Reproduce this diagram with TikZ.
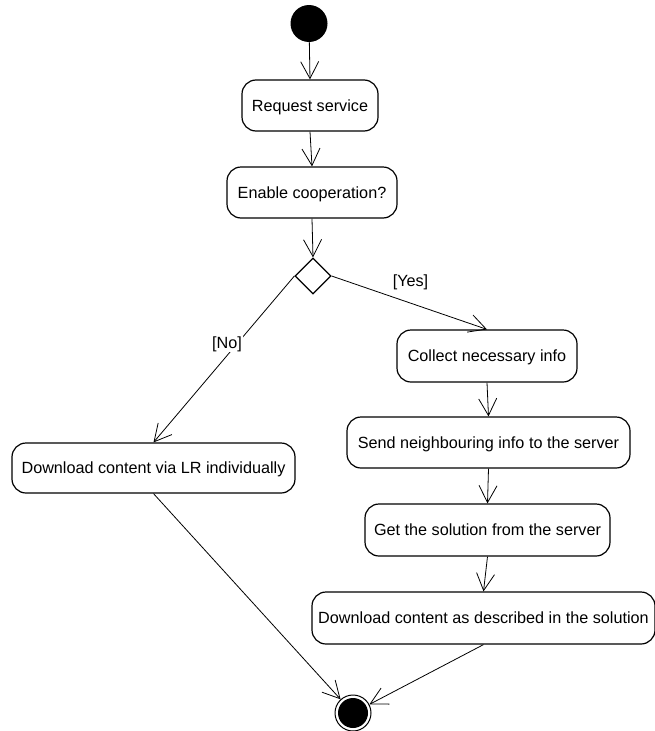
\documentclass[tikz,border=0pt]{standalone}
\usepackage{fontspec}
\setmainfont{Liberation Sans}
\usetikzlibrary{arrows.meta,shapes.geometric}
\begin{document}
\begin{tikzpicture}[x=1pt,y=-1pt,
  every node/.style={font=\fontsize{16.2}{19}\selectfont},
  action/.style={draw, line width=1.2pt, rounded corners=14pt, inner sep=0pt,
                 text height=11.6pt, text depth=0pt},
  flow/.style={line width=0.8pt, -{Straight Barb[length=17pt,width=18pt]}},
  guard/.style={fill=white, inner sep=1pt, text height=11.6pt, text depth=3pt}
]
\useasboundingbox (0,0) rectangle (655,731);

% initial and final states
\node[circle, fill=black, minimum size=37pt, inner sep=0pt] (start) at (309,23.5) {};
\node[circle, draw, line width=1pt, minimum size=36pt, inner sep=0pt] (end) at (353,713) {};
\fill (end.center) circle (15pt);

% actions
\node[action, minimum width=136pt, minimum height=51pt] (req) at (310,105.5) {Request service};
\node[action, minimum width=170pt, minimum height=51pt] (enable) at (312,192.5) {Enable cooperation?};
\node[draw, diamond, line width=1.2pt, inner sep=0pt, minimum width=36pt, minimum height=36pt] (dec) at (313,276) {};
\node[action, minimum width=180pt, minimum height=52pt] (collect) at (487,356) {Collect necessary info};
\node[action, minimum width=283pt, minimum height=51pt] (send) at (488.5,442.5) {Send neighbouring info to the server};
\node[action, minimum width=245pt, minimum height=52pt] (get) at (487.5,530) {Get the solution from the server};
\node[action, minimum width=343pt, minimum height=52pt] (dl) at (483.5,618) {Download content as described in the solution};
\node[action, minimum width=283pt, minimum height=50pt] (lr) at (153.5,468) {Download content via LR individually};

% control flow
\draw[flow] (start) -- (req.north);
\draw[flow] (req.south) -- (enable.north);
\draw[flow] (enable.south) -- (dec.north);
\draw[flow] (dec.west) -- (lr.north);
\draw[flow] (dec.east) -- (collect.north);
\draw[flow] (collect.south) -- (send.north);
\draw[flow] (send.south) -- (get.north);
\draw[flow] (get.south) -- (dl.north);
\draw[flow] (lr.south) -- (end);
\draw[flow] (dl.south) -- (end);

% guards
\node[guard] (no) at (227,344) {[No]};
\node[guard] (yes) at (410.5,282) {[Yes]};
\end{tikzpicture}
\end{document}
